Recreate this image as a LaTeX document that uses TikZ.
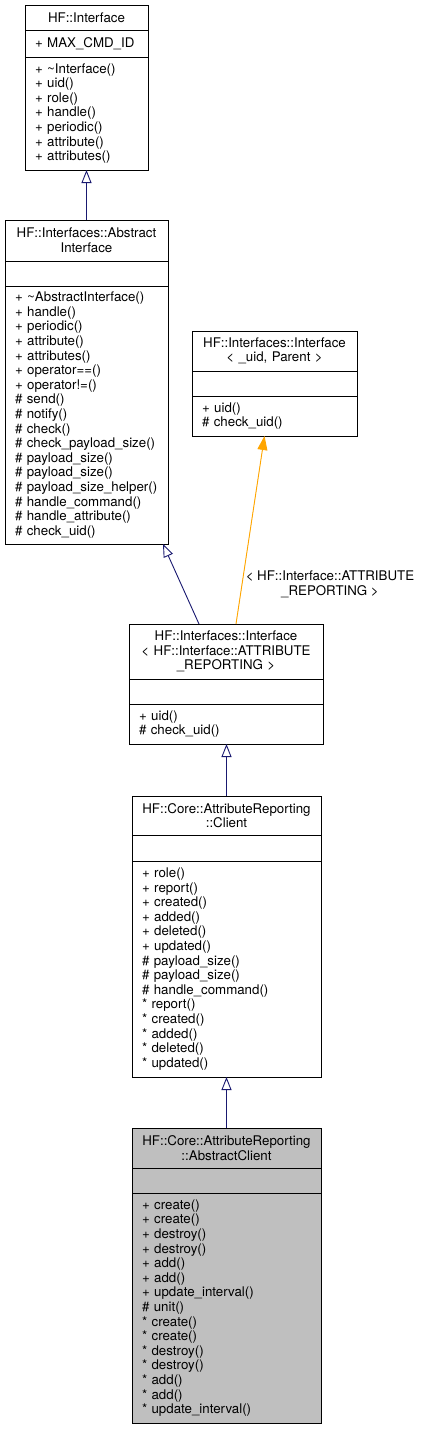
\documentclass[tikz,border=0pt]{standalone}
\usepackage{fontspec}
\setmainfont{TeX Gyre Heros}
\usepackage{tikz}
\usetikzlibrary{arrows.meta,positioning,calc}
\definecolor{edgeblue}{HTML}{191970}
\definecolor{edgeorange}{HTML}{FFA500}
\definecolor{focusgray}{HTML}{BFBFBF}
\tikzset{
  classpart/.style={draw=black, line width=0.9pt, anchor=north west, outer sep=0pt, inner xsep=10pt, inner ysep=0pt, font=\fontsize{13.3}{14.6}\selectfont},
  classtitle/.style={classpart, align=center},
  classbody/.style={classpart, align=left},
  inherit/.style={-{Triangle[open, length=13pt, width=10pt]}, line width=0.9pt, draw=edgeblue},
  templ/.style={-{Triangle[length=14pt, width=10pt]}, line width=0.9pt, draw=edgeorange, fill=edgeorange},
  templabel/.style={font=\fontsize{13.3}{14.6}\selectfont, align=center}
}
\begin{document}
\begin{tikzpicture}[x=1pt, y=-1pt]
  \useasboundingbox (0,0) rectangle (425,1429);

  \node[classtitle, text width=103pt, minimum height=25pt] (ifTitle) at (25,5) {HF::Interface};
  \node[classbody, text width=103pt, minimum height=27pt] (ifAttr) at (ifTitle.south west) {+ MAX\_CMD\_ID};
  \node[classbody, text width=103pt, minimum height=113pt] (ifMeth) at (ifAttr.south west) {+ \textasciitilde Interface()\\+ uid()\\+ role()\\+ handle()\\+ periodic()\\+ attribute()\\+ attributes()};

  \node[classtitle, text width=143pt, minimum height=41pt] (aiTitle) at (5,220) {HF::Interfaces::Abstract\\Interface};
  \node[classbody, text width=143pt, minimum height=25pt] (aiAttr) at (aiTitle.south west) {};
  \node[classbody, text width=143pt, minimum height=258pt] (aiMeth) at (aiAttr.south west) {+ \textasciitilde AbstractInterface()\\+ handle()\\+ periodic()\\+ attribute()\\+ attributes()\\+ operator==()\\+ operator!=()\\\# send()\\\# notify()\\\# check()\\\# check\_payload\_size()\\\# payload\_size()\\\# payload\_size()\\\# payload\_size\_helper()\\\# handle\_command()\\\# handle\_attribute()\\\# check\_uid()};

  \node[classtitle, text width=145pt, minimum height=40pt] (tplTitle) at (192,331) {HF::Interfaces::Interface\\< \_uid, Parent >};
  \node[classbody, text width=145pt, minimum height=25pt] (tplAttr) at (tplTitle.south west) {};
  \node[classbody, text width=145pt, minimum height=40pt] (tplMeth) at (tplAttr.south west) {+ uid()\\\# check\_uid()};

  \node[classtitle, text width=174pt, minimum height=55pt] (arTitle) at (129,624) {HF::Interfaces::Interface\\< HF::Interface::ATTRIBUTE\\\_REPORTING >};
  \node[classbody, text width=174pt, minimum height=25pt] (arAttr) at (arTitle.south west) {};
  \node[classbody, text width=174pt, minimum height=40pt] (arMeth) at (arAttr.south west) {+ uid()\\\# check\_uid()};

  \node[classtitle, text width=169pt, minimum height=39pt] (clTitle) at (132,796) {HF::Core::AttributeReporting\\::Client};
  \node[classbody, text width=169pt, minimum height=26pt] (clAttr) at (clTitle.south west) {};
  \node[classbody, text width=169pt, minimum height=216pt] (clMeth) at (clAttr.south west) {+ role()\\+ report()\\+ created()\\+ added()\\+ deleted()\\+ updated()\\\# payload\_size()\\\# payload\_size()\\\# handle\_command()\\{*} report()\\{*} created()\\{*} added()\\{*} deleted()\\{*} updated()};

  \node[classtitle, fill=focusgray, text width=169pt, minimum height=40pt] (acTitle) at (132,1128) {HF::Core::AttributeReporting\\::AbstractClient};
  \node[classbody, fill=focusgray, text width=169pt, minimum height=25pt] (acAttr) at (acTitle.south west) {};
  \node[classbody, fill=focusgray, text width=169pt, minimum height=230pt] (acMeth) at (acAttr.south west) {+ create()\\+ create()\\+ destroy()\\+ destroy()\\+ add()\\+ add()\\+ update\_interval()\\\# unit()\\{*} create()\\{*} create()\\{*} destroy()\\{*} destroy()\\{*} add()\\{*} add()\\{*} update\_interval()};

  \draw[inherit] (aiTitle.north) -- (aiTitle.north |- ifMeth.south);
  \draw[inherit] ($(arTitle.north west)+(70,0)$) -- ($(aiMeth.south east)+(-5,0)$);
  \draw[templ] ($(arTitle.north west)+(107,0)$) -- node[templabel, pos=0.21, anchor=west] {< HF::Interface::ATTRIBUTE\\\_REPORTING >} ($(tplMeth.south)+(-10,0)$);
  \draw[inherit] (clTitle.north) -- (clTitle.north |- arMeth.south);
  \draw[inherit] (acTitle.north) -- (acTitle.north |- clMeth.south);
\end{tikzpicture}
\end{document}
